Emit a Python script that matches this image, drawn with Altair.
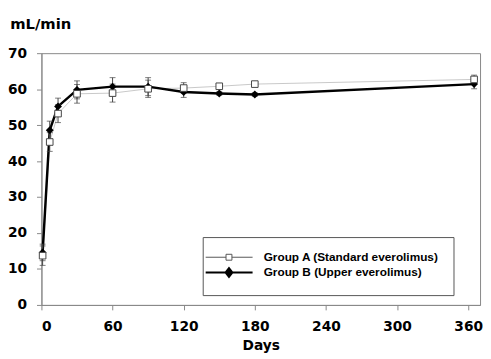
import altair as alt
import pandas as pd

days = [1, 7, 14, 30, 60, 90, 120, 150, 180, 365]
a_mean = [13.7, 45.3, 53.2, 58.7, 58.9, 60.1, 60.3, 60.8, 61.4, 62.7]
a_err = [2.7, 2.6, 2.5, 2.6, 2.5, 2.4, 1.5, 0.5, 0.5, 1.2]
b_mean = [14.6, 48.6, 55.2, 59.8, 60.7, 60.7, 59.2, 58.8, 58.5, 61.4]
b_err = [2.3, 2.5, 2.3, 2.5, 2.5, 2.5, 1.5, 0.5, 0.5, 1.3]
groups = ["Group A (Standard everolimus)", "Group B (Upper everolimus)"]
x_ticks = [0, 60, 120, 180, 240, 300, 360]
y_ticks = [0, 10, 20, 30, 40, 50, 60, 70]

rows = []
for g, means, errs in [(groups[0], a_mean, a_err), (groups[1], b_mean, b_err)]:
    for d, m, e in zip(days, means, errs):
        rows.append({"day": d, "value": m, "lo": round(m - e, 2), "hi": round(m + e, 2), "group": g})
df = pd.DataFrame(rows)
dfA = df[df["group"] == groups[0]]
dfB = df[df["group"] == groups[1]]

AX = "#888888"
x_axis = alt.Axis(values=x_ticks, title="Days", labelPadding=10, titlePadding=5)
y_axis = alt.Axis(values=y_ticks, title="mL/min", titleAngle=0, titleAlign="left",
                  titleBaseline="top", titleX=-32.3, titleY=-37, titleFontSize=15, labelPadding=10)
xs = alt.Scale(domain=[0, 370], nice=False, zero=False)
ys = alt.Scale(domain=[0, 70], nice=False)


def X():
    return alt.X("day:Q", scale=xs, axis=x_axis)


def Y(f):
    return alt.Y(f"{f}:Q", scale=ys, axis=y_axis)


def series(data, line_color, line_width, point_mark):
    line = alt.Chart(data).mark_line(color=line_color, strokeWidth=line_width).encode(x=X(), y=Y("value"))
    rule = alt.Chart(data).mark_rule(color="#444444", strokeWidth=1).encode(x=X(), y=Y("lo"), y2="hi:Q")
    cap_lo = alt.Chart(data).mark_tick(orient="horizontal", size=6, thickness=1, color="#444444").encode(x=X(), y=Y("lo"))
    cap_hi = alt.Chart(data).mark_tick(orient="horizontal", size=6, thickness=1, color="#444444").encode(x=X(), y=Y("hi"))
    pts = alt.Chart(data).mark_point(**point_mark).encode(x=X(), y=Y("value"))
    return line, rule, cap_lo, cap_hi, pts


lA, rA, clA, chA, pA = series(dfA, "#c8c8c8", 1, dict(shape="square", size=45, filled=True, fill="white",
                                                     stroke="#444444", strokeWidth=1, opacity=1))
lB, rB, clB, chB, pB = series(dfB, "black", 2.5, dict(shape="diamond", size=64, filled=True, color="black", opacity=1))

# legend glyphs: a short line with the series marker in its middle
pathA = "M-3,0H0.45M1.45,0H4.95M0.45,-0.5H1.45V0.5H0.45Z"
pathB = "M-3,0H4.95M0.95,-0.75L1.53,0L0.95,0.75L0.37,0Z"

leg = alt.Legend(title=None)
legend_layer = alt.Chart(df).transform_filter("false").mark_point(filled=True, opacity=1, size=144).encode(
    x=X(), y=Y("value"),
    shape=alt.Shape("group:N", scale=alt.Scale(domain=groups, range=[pathA, pathB]), legend=leg),
    fill=alt.Fill("group:N", scale=alt.Scale(domain=groups, range=["white", "black"]), legend=leg),
    stroke=alt.Stroke("group:N", scale=alt.Scale(domain=groups, range=["#555555", "black"]), legend=leg),
    strokeWidth=alt.StrokeWidth("group:N", scale=alt.Scale(domain=groups, range=[1, 2]), legend=leg),
)

chart = alt.layer(lA, lB, rA, clA, chA, rB, clB, chB, pB, pA, legend_layer).properties(
    width=446, height=256,
    autosize=alt.AutoSizeParams(type="none"),
    padding={"left": 34, "top": 43, "right": 3, "bottom": 50},
).configure_view(stroke=AX, strokeWidth=1).configure_axis(
    grid=False, domainColor=AX, tickColor=AX, tickSize=5,
    labelFont="DejaVu Sans", labelFontWeight="bold", labelFontSize=14, labelColor="black",
    titleFont="DejaVu Sans", titleFontWeight="bold", titleFontSize=14, titleColor="black",
).configure_legend(
    orient="none", legendX=164, legendY=187, strokeColor="#555555", fillColor="white",
    padding=14, symbolSize=144, labelOffset=34, rowPadding=0,
    labelFont="Liberation Sans", labelFontWeight="bold", labelFontSize=12, labelColor="black",
    labelLimit=400,
)

chart.save("out.html", embed_options={"renderer": "svg", "actions": False})
